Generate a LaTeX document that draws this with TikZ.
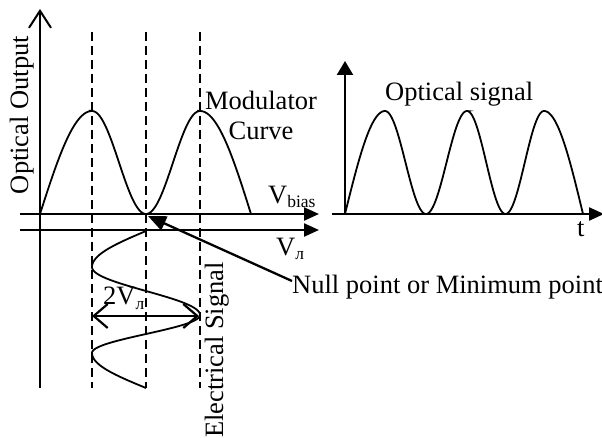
\documentclass[tikz,border=0pt]{standalone}
\usepackage{fontspec}
\setmainfont{Liberation Serif}
\usetikzlibrary{arrows.meta}
\begin{document}
\begin{tikzpicture}[x=1pt,y=-1pt,
  axis/.style={line width=2.3pt},
  curve/.style={line width=1.8pt},
  guide/.style={line width=2pt,dash pattern=on 9pt off 5pt},
  lbl/.style={inner sep=0pt,font=\fontsize{26.5pt}{31pt}\selectfont},
  filltip/.style={-{Triangle[length=15pt,width=13pt]}},
  opentip/.style={-{Straight Barb[length=17pt,width=22pt,line width=2pt]}},
  dbl/.style={{Straight Barb[length=14pt,width=24pt,line width=2.2pt]}-{Straight Barb[length=14pt,width=24pt,line width=2.2pt]}}]
\useasboundingbox (0,0) rectangle (602,438);
% coordinates
\coordinate (yb) at (40,388);
\coordinate (yt) at (40,9);
\coordinate (b1) at (20,214);
\coordinate (b2) at (319,214);
\coordinate (p1) at (20,230);
\coordinate (p2) at (319,230);
\coordinate (d1a) at (92,32);  \coordinate (d1b) at (92,388);
\coordinate (d2a) at (146,32); \coordinate (d2b) at (146,388);
\coordinate (d3a) at (200,32); \coordinate (d3b) at (200,388);
\coordinate (null) at (148,216);
\coordinate (nullfrom) at (292,281);
\coordinate (ryb) at (345,214);
\coordinate (ryt) at (345,61);
\coordinate (rxa) at (332,214);
\coordinate (rxb) at (604,214);
\coordinate (ta) at (92,316);
\coordinate (tb) at (199,316);
% dashed guides
\draw[guide] (d1a) -- (d1b);
\draw[guide] (d2a) -- (d2b);
\draw[guide] (d3a) -- (d3b);
% axes
\draw[axis,opentip] (yb) -- (yt);
\draw[axis,filltip] (b1) -- (b2);
\draw[axis,filltip] (p1) -- (p2);
% modulator curve
\draw[curve] plot[domain=0:90,samples=40] ({40+\x*0.5778},{214-103*sin(\x)})
  -- plot[domain=0:360,samples=80] ({92+\x*0.3},{214-51.5*(1+cos(\x))})
  -- plot[domain=0:90,samples=40] ({200+\x*0.5667},{214-103*cos(\x)});
% electrical signal
\draw[curve] plot[domain=0:90,samples=30] ({146-54*sin(\x)},{231+\x*0.4})
  -- plot[domain=0:180,samples=50] ({146-54*cos(\x)},{267+\x*0.2667})
  -- plot[domain=0:180,samples=50] ({146+54*cos(\x)},{315+\x*0.2111})
  -- plot[domain=0:90,samples=30] ({146-54*cos(\x)},{353+\x*0.3889});
% 2V arrow
\draw[line width=2pt,dbl] (ta) -- (tb);
% null point arrow
\draw[axis,-{Triangle[length=18pt,width=15pt]}] (nullfrom) -- (null);
% right plot
\draw[axis,filltip] (rxa) -- (rxb);
\draw[axis,-{Triangle[length=14pt,width=16pt]}] (ryb) -- (ryt);
\draw[curve] plot[domain=0:90,samples=30] ({345+\x*0.4444},{214-103*sin(\x)})
  -- plot[domain=0:360,samples=80] ({385+\x*0.2278},{214-51.5*(1+cos(\x))})
  -- plot[domain=0:360,samples=80] ({467+\x*0.2139},{214-51.5*(1+cos(\x))})
  -- plot[domain=0:90,samples=30] ({544+\x*0.4333},{214-103*cos(\x)});
% labels
\node[lbl,rotate=90,anchor=base] (oo) at (28,115) {Optical Output};
\node[lbl,anchor=base] (mod) at (261,110) {Modulator};
\node[lbl,anchor=base] (cur) at (261,140) {Curve};
\node[lbl,anchor=base west] (vb) at (268,204) {V\raisebox{-4pt}{\fontsize{17.5pt}{17pt}\selectfont bias}};
\node[lbl,anchor=base west] (vp) at (276,255) {V\raisebox{-5pt}{\fontsize{17.5pt}{17pt}\selectfont л}};
\node[lbl,anchor=base west] (tv) at (103,305) {2V\raisebox{-5pt}{\fontsize{17.5pt}{17pt}\selectfont л}};
\node[lbl,rotate=90,anchor=base] (es) at (223,350) {Electrical Signal};
\node[lbl,anchor=base west] (np) at (292,294) {Null point or Minimum point};
\node[lbl,anchor=base west] (os) at (385,101) {Optical signal};
\node[lbl,anchor=base west] (t) at (577,237) {t};
\end{tikzpicture}
\end{document}
